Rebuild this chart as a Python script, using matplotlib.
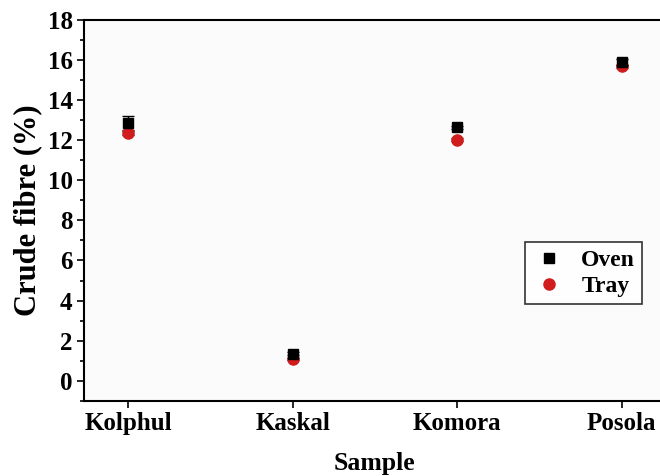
import numpy as np
import matplotlib
matplotlib.use('Agg')
import matplotlib.pyplot as plt
from matplotlib.ticker import MultipleLocator

# ---------------- DATA ---------------- #
samples = ['Kolphul', 'Kaskal', 'Komora', 'Posola']
oven = [12.85, 1.35, 12.65, 15.9]
oven_err = [0.35, 0.08, 0.08, 0.15]
tray = [12.38, 1.08, 12.02, 15.68]
tray_err = [0.1, 0.05, 0.08, 0.08]
# -------------------------------------- #

plt.rcParams['font.family'] = ['Liberation Serif', 'DejaVu Serif']
plt.rcParams['font.weight'] = 'bold'

fig = plt.figure(figsize=(6.6, 4.76), dpi=100)
ax = fig.add_axes([0.127, 0.158, 0.882, 0.80])
ax.set_facecolor('#fbfbfb')

x = np.arange(len(samples))
# error bars first, markers on top (legend only shows the markers)
ax.errorbar(x, oven, yerr=oven_err, fmt='none', ecolor='black',
            elinewidth=1, capsize=4, capthick=1, zorder=2)
ax.errorbar(x, tray, yerr=tray_err, fmt='none', ecolor='black',
            elinewidth=1, capsize=4, capthick=1, zorder=2)
ax.plot(x, oven, 's', color='black', ms=7, label='Oven', zorder=4)
ax.plot(x, tray, 'o', color='#d01c1c', ms=8, label='Tray', zorder=3)

ax.set_xlim(-0.27, 3.27)
ax.set_ylim(-1, 18)
ax.set_xticks(x)
ax.set_xticklabels(samples)
ax.yaxis.set_major_locator(MultipleLocator(2))
ax.yaxis.set_minor_locator(MultipleLocator(1))
ax.tick_params(axis='both', direction='out', length=5, width=1.2, labelsize=18, pad=3)
ax.tick_params(axis='y', which='minor', direction='out', length=3, width=1.2)

for s in ax.spines.values():
    s.set_linewidth(1.5)

ax.set_xlabel('Sample', fontsize=18.5, fontweight='bold', labelpad=12)
ax.set_ylabel('Crude fibre (%)', fontsize=22, fontweight='bold', labelpad=4)

leg = ax.legend(loc='upper left', bbox_to_anchor=(0.745, 0.435), fontsize=17,
                frameon=True, fancybox=False, edgecolor='black', handletextpad=0.6,
                borderpad=0.3, borderaxespad=0.3, labelspacing=0.2, handlelength=1.5)
leg.get_frame().set_linewidth(1.2)
leg.get_frame().set_facecolor('white')

fig.savefig('out.png', dpi=100, facecolor='white')
